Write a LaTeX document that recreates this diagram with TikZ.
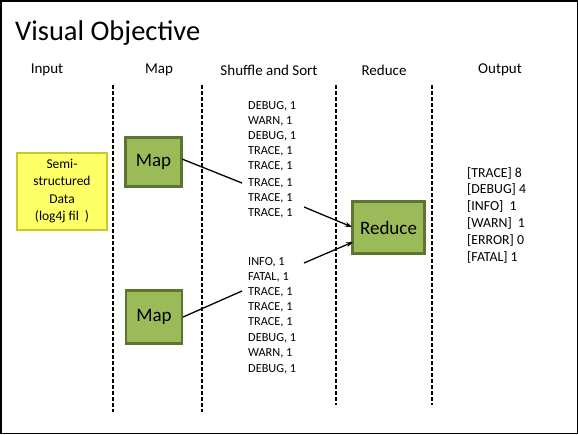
\documentclass[tikz,border=0pt]{standalone}
\usepackage{fontspec}
\setmainfont{Carlito}
\usetikzlibrary{arrows.meta}
\definecolor{gfill}{HTML}{9BBB59}
\definecolor{gdraw}{HTML}{5E7530}
\definecolor{yfill}{HTML}{FFFF66}
\definecolor{ydraw}{HTML}{C8C832}
\begin{document}
\begin{tikzpicture}[x=1pt,y=-1pt,
  sep/.style={line width=1.6pt,dash pattern=on 3.5pt off 2.5pt},
  gbox/.style={fill=gfill,draw=gdraw,line width=2.2pt,minimum width=56pt,inner sep=0pt,font=\fontsize{19}{21}\selectfont},
  hdr/.style={font=\fontsize{15}{17}\selectfont},
  kv/.style={anchor=west,inner sep=0pt,font=\fontsize{12.3}{14}\selectfont},
  outl/.style={anchor=west,inner sep=0pt,font=\fontsize{13.8}{15}\selectfont},
  conn/.style={line width=1.3pt},
  arr/.style={line width=1.3pt,-{Stealth[length=7pt,width=5pt]}}]
\useasboundingbox (0,0) rectangle (578,434);
\draw[line width=1.5pt] (0.75,0.75) rectangle (577.25,433.25);
\node[anchor=base west,inner sep=0pt,font=\fontsize{28.5}{30}\selectfont] (title) at (15,40) {Visual Objective};
\node[hdr] (hin) at (47,70) {Input};
\node[hdr] (hmap) at (159,70) {Map};
\node[hdr] (hss) at (269,70) {Shuffle and Sort};
\node[hdr] (hred) at (384,70) {Reduce};
\node[hdr] (hout) at (500,70) {Output};
\draw[sep] (113,85) -- (113,412);
\draw[sep] (202,85) -- (202,412);
\draw[sep] (336,85) -- (336,405);
\draw[sep] (432,85) -- (432,405);
\node[fill=yfill,draw=ydraw,line width=2pt,minimum width=90pt,minimum height=77pt,inner sep=0pt,align=center,font=\fontsize{13.5}{17.5}\selectfont] (inp) at (62,191) {Semi-\\structured\\Data\\(log4j fil\hspace{6pt})};
\node[gbox,minimum height=49pt] (map1) at (153.5,162) {Map};
\node[gbox,minimum height=53pt] (map2) at (154,317) {Map};
\node[gbox,minimum width=72pt,minimum height=52pt] (red) at (388.5,227.5) {Reduce};
\foreach \t/\y [count=\i] in {{DEBUG, 1}/106,{WARN, 1}/121,{DEBUG, 1}/136,{TRACE, 1}/151,{TRACE, 1}/166,{TRACE, 1}/183,{TRACE, 1}/198,{TRACE, 1}/213}
  \node[kv] (a\i) at (248,\y) {\t};
\foreach \t/\y [count=\i] in {{INFO, 1}/262,{FATAL, 1}/277,{TRACE, 1}/292,{TRACE, 1}/307,{TRACE, 1}/322,{DEBUG, 1}/338,{WARN, 1}/353,{DEBUG, 1}/369}
  \node[kv] (b\i) at (248,\y) {\t};
\foreach \t/\y [count=\i] in {{[TRACE] 8}/173,{[DEBUG] 4}/189,{[INFO]\ \ 1}/206,{[WARN]\ \ 1}/223,{[ERROR] 0}/240,{[FATAL] 1}/257}
  \node[outl] (o\i) at (467,\y) {\t};
\coordinate (m1s) at (182,159);
\coordinate (m1e) at (242,183);
\coordinate (m2e) at (242,291);
\coordinate (r1s) at (304,207);
\coordinate (r1e) at (352,227);
\coordinate (r2s) at (304,263);
\coordinate (r2e) at (353,242);
\draw[conn] (m1s) -- (m1e);
\draw[conn] (map2.east) -- (m2e);
\draw[arr] (r1s) -- (r1e);
\draw[arr] (r2s) -- (r2e);
\end{tikzpicture}
\end{document}
